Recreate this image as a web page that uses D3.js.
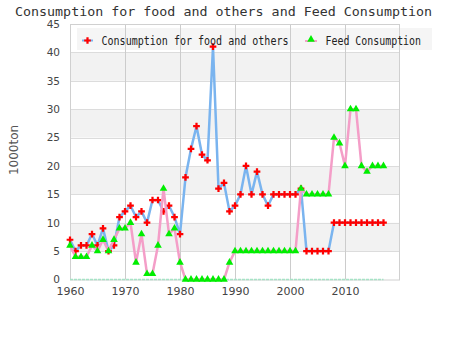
<!DOCTYPE html>
<html>
<head>
<meta charset="utf-8">
<script src="https://cdn.jsdelivr.net/npm/d3@7/dist/d3.min.js"></script>
<style>
  html, body { margin: 0; padding: 0; background: #fff; }
  svg { display: block; }
</style>
</head>
<body>
<script>
const years = [1960,1961,1962,1963,1964,1965,1966,1967,1968,1969,
  1970,1971,1972,1973,1974,1975,1976,1977,1978,1979,
  1980,1981,1982,1983,1984,1985,1986,1987,1988,1989,
  1990,1991,1992,1993,1994,1995,1996,1997,1998,1999,
  2000,2001,2002,2003,2004,2005,2006,2007,2008,2009,
  2010,2011,2012,2013,2014,2015,2016,2017];
const foodValues = [7,5,6,6,8,6,9,5,6,11,
  12,13,11,12,10,14,14,12,13,11,
  8,18,23,27,22,21,41,16,17,12,
  13,15,20,15,19,15,13,15,15,15,
  15,15,16,5,5,5,5,5,10,10,
  10,10,10,10,10,10,10,10];
const feedValues = [6,4,4,4,6,5,7,5,7,9,
  9,10,3,8,1,1,6,16,8,9,
  3,0,0,0,0,0,0,0,0,3,
  5,5,5,5,5,5,5,5,5,5,
  5,5,16,15,15,15,15,15,25,24,
  20,30,30,20,19,20,20,20];
const xTicks = [1960,1970,1980,1990,2000,2010];
const yTicks = [0,5,10,15,20,25,30,35,40,45];
const seriesNames = ["Consumption for food and others", "Feed Consumption"];
const titleText = "Consumption for food and others and Feed Consumption";
const yTitle = "1000ton";

const W = 450, H = 350;
const L = 70, R = 400, T = 24, B = 279.5;

const svg = d3.select("body").append("svg").attr("width", W).attr("height", H);

const x = d3.scaleLinear().domain([1960, 2020]).range([L, R]);
const y = d3.scaleLinear().domain([0, 45]).range([B, T]);

// bands
const bands = [[5,10],[15,20],[25,30],[35,40]];
svg.append("g").selectAll("rect").data(bands).join("rect")
  .attr("x", L).attr("width", R - L)
  .attr("y", d => y(d[1])).attr("height", d => y(d[0]) - y(d[1]))
  .attr("fill", "#f2f2f2");

// legend background
svg.append("rect").attr("x", 77).attr("y", 28).attr("width", 355).attr("height", 22)
  .attr("fill", "#f3f3f3").attr("opacity", 0.85);

// horizontal gridlines
svg.append("g").selectAll("line").data(yTicks.filter(v => v > 0 && v < 45)).join("line")
  .attr("x1", L).attr("x2", R)
  .attr("y1", d => Math.round(y(d)) + 0.5).attr("y2", d => Math.round(y(d)) + 0.5)
  .attr("stroke", "#dcdcdc").attr("stroke-width", 1);

// vertical gridlines
svg.append("g").selectAll("line").data(xTicks.filter(v => v > 1960)).join("line")
  .attr("x1", d => Math.round(x(d)) + 0.5).attr("x2", d => Math.round(x(d)) + 0.5)
  .attr("y1", T).attr("y2", B)
  .attr("stroke", "#cccccc").attr("stroke-width", 1);

// border
svg.append("rect").attr("x", L + 0.5).attr("y", T + 0.5)
  .attr("width", R - L - 1).attr("height", B - T)
  .attr("fill", "none").attr("stroke", "#d0d0d0").attr("stroke-width", 1);

// baseline light green
svg.append("line")
  .attr("x1", x(years[0])).attr("x2", x(years[years.length - 1]))
  .attr("y1", y(0)).attr("y2", y(0))
  .attr("stroke", "#a6e3c6").attr("stroke-width", 1.5).attr("stroke-dasharray", "3,1");

// axes labels
const xAxis = d3.axisBottom(x).tickValues(xTicks).tickFormat(d3.format("d")).tickSize(0).tickPadding(8);
const gx = svg.append("g").attr("transform", `translate(0,${B})`).call(xAxis);
gx.select(".domain").remove();
gx.selectAll("text").attr("font-family", "DejaVu Sans, sans-serif").attr("font-size", 11).attr("fill", "#444");

const yAxis = d3.axisLeft(y).tickValues(yTicks).tickSize(0).tickPadding(10);
const gy = svg.append("g").attr("transform", `translate(${L},0)`).call(yAxis);
gy.select(".domain").remove();
gy.selectAll("text").attr("font-family", "DejaVu Sans, sans-serif").attr("font-size", 10.5).attr("fill", "#444");

svg.append("text")
  .attr("transform", `translate(18,150) rotate(-90)`)
  .attr("text-anchor", "middle")
  .attr("font-family", "DejaVu Sans, sans-serif").attr("font-size", 12).attr("fill", "#555")
  .text(yTitle);

// title
svg.append("text").attr("x", 15).attr("y", 15.5)
  .attr("font-family", "DejaVu Sans Mono, monospace").attr("font-size", 12).attr("fill", "#333")
  .attr("textLength", 417).attr("lengthAdjust", "spacingAndGlyphs")
  .text(titleText);

// clip
svg.append("clipPath").attr("id", "clip").append("rect")
  .attr("x", L - 10).attr("y", T).attr("width", R - L + 20).attr("height", B - T + 2.5);

const plot = svg.append("g").attr("clip-path", "url(#clip)");

const line = d3.line().x(d => x(d[0])).y(d => y(d[1]));
const foodData = years.map((yr, i) => [yr, foodValues[i]]);
const feedData = years.map((yr, i) => [yr, feedValues[i]]);

const cross = d3.symbol().type(d3.symbolCross).size(25);
const tri = d3.symbol().type(d3.symbolTriangle).size(25);

plot.append("path").datum(foodData).attr("d", line)
  .attr("fill", "none").attr("stroke", "#7ab4ef").attr("stroke-width", 2.5).attr("stroke-linejoin", "round");
plot.append("g").selectAll("path").data(foodData).join("path")
  .attr("transform", d => `translate(${x(d[0])},${y(d[1])})`)
  .attr("d", cross).attr("fill", "#ff0000");

plot.append("path").datum(feedData).attr("d", line)
  .attr("fill", "none").attr("stroke", "#f49ec8").attr("stroke-width", 2.5).attr("stroke-linejoin", "round");
plot.append("g").selectAll("path").data(feedData).join("path")
  .attr("transform", d => `translate(${x(d[0])},${y(d[1])})`)
  .attr("d", tri).attr("fill", "#00ee00");

// legend
const lg = svg.append("g");
lg.append("line").attr("x1", 82).attr("x2", 93).attr("y1", 40.5).attr("y2", 40.5)
  .attr("stroke", "#7ab4ef").attr("stroke-width", 2);
lg.append("path").attr("transform", "translate(87.5,40.5)").attr("d", cross).attr("fill", "#ff0000");
lg.append("text").attr("x", 101.5).attr("y", 44.5)
  .attr("font-family", "DejaVu Sans Mono, monospace").attr("font-size", 12).attr("fill", "#222")
  .attr("textLength", 187).attr("lengthAdjust", "spacingAndGlyphs")
  .text(seriesNames[0]);
lg.append("line").attr("x1", 305).attr("x2", 317).attr("y1", 41).attr("y2", 41)
  .attr("stroke", "#f49ec8").attr("stroke-width", 2);
lg.append("path").attr("transform", "translate(311,39.5)").attr("d", tri).attr("fill", "#00ee00");
lg.append("text").attr("x", 325.5).attr("y", 44.5)
  .attr("font-family", "DejaVu Sans Mono, monospace").attr("font-size", 12).attr("fill", "#222")
  .attr("textLength", 95.5).attr("lengthAdjust", "spacingAndGlyphs")
  .text(seriesNames[1]);
</script>
</body>
</html>
